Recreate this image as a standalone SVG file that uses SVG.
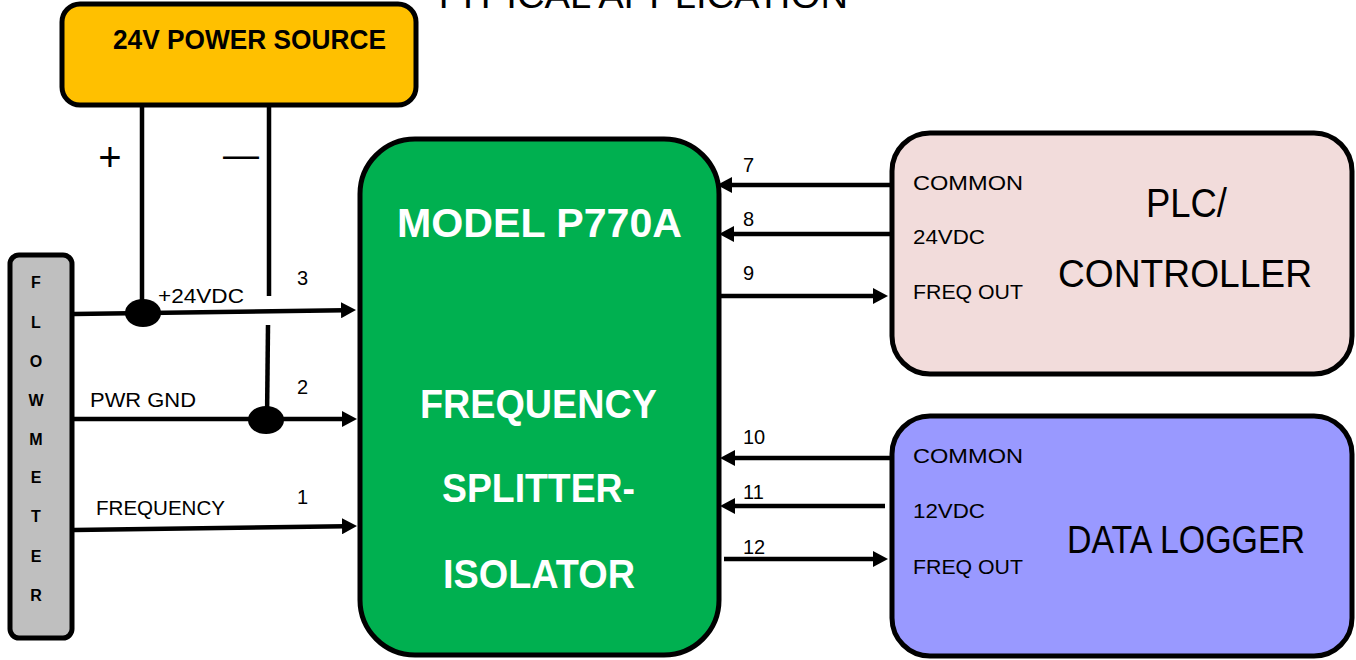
<svg xmlns="http://www.w3.org/2000/svg" width="1356" height="660" viewBox="0 0 1356 660">
<style>
.box{stroke:#000;stroke-width:5}
.t{font-family:"Liberation Sans",Arial,sans-serif;fill:#000}
.b{font-weight:bold}
.w{fill:#fff}
.wire{stroke:#000;stroke-width:4.5;fill:none}
.lbl{font-size:21px}
.num{font-size:20px}
</style>
<defs>
<marker id="ah" markerUnits="userSpaceOnUse" markerWidth="16" markerHeight="16" refX="3" refY="8" orient="auto">
<path d="M0,0 L15,8 L0,16 z" fill="#000"/>
</marker>
</defs>
<rect width="1356" height="660" fill="#fff"/>
<text class="t" x="432" y="8" font-size="37" textLength="416" lengthAdjust="spacingAndGlyphs">TYPICAL APPLICATION</text>

<g id="connectors">
<line class="wire" x1="142" y1="106" x2="142" y2="312"/>
<line class="wire" x1="269" y1="106" x2="269" y2="296"/>
<line class="wire" x1="268" y1="325" x2="267" y2="420"/>
<line class="wire" x1="74" y1="314" x2="344" y2="310.2" marker-end="url(#ah)"/>
<line class="wire" x1="74" y1="419" x2="345" y2="419" marker-end="url(#ah)"/>
<line class="wire" x1="74" y1="530" x2="345" y2="526.2" marker-end="url(#ah)"/>
<line class="wire" x1="890" y1="185" x2="729" y2="185" marker-end="url(#ah)"/>
<line class="wire" x1="890" y1="234" x2="731" y2="234" marker-end="url(#ah)"/>
<line class="wire" x1="720" y1="296" x2="876" y2="296" marker-end="url(#ah)"/>
<line class="wire" x1="890" y1="458" x2="732" y2="458" marker-end="url(#ah)"/>
<line class="wire" x1="885" y1="506" x2="732" y2="506" marker-end="url(#ah)"/>
<line class="wire" x1="724" y1="559" x2="876" y2="559" marker-end="url(#ah)"/>
<ellipse cx="143" cy="313" rx="18" ry="14" fill="#000"/>
<ellipse cx="266" cy="420" rx="18" ry="14" fill="#000"/>
<text class="t" x="110" y="171" font-size="40" text-anchor="middle">+</text>
<text class="t" x="241" y="167" font-size="36" text-anchor="middle">—</text>
<text class="t lbl" x="158" y="303" textLength="86" lengthAdjust="spacingAndGlyphs">+24VDC</text>
<text class="t lbl" x="90" y="407" textLength="106" lengthAdjust="spacingAndGlyphs">PWR GND</text>
<text class="t lbl" x="96" y="515" textLength="129" lengthAdjust="spacingAndGlyphs">FREQUENCY</text>
<text class="t num" x="297" y="285">3</text>
<text class="t num" x="297" y="394">2</text>
<text class="t num" x="297" y="504">1</text>
<text class="t num" x="743" y="172">7</text>
<text class="t num" x="743" y="226">8</text>
<text class="t num" x="743" y="280">9</text>
<text class="t num" x="743" y="444">10</text>
<text class="t num" x="743" y="499">11</text>
<text class="t num" x="743" y="554">12</text>
</g>

<g id="power-source">
<rect class="box" x="62" y="4" width="354" height="101" rx="18" fill="#FFC000"/>
<text class="t b" x="113" y="49" font-size="27" textLength="273" lengthAdjust="spacingAndGlyphs">24V POWER SOURCE</text>
</g>

<g id="flowmeter">
<rect class="box" x="10" y="255" width="62" height="383" rx="9" fill="#BFBFBF" stroke-width="4.5"/>
<g class="t b" font-size="16" text-anchor="middle">
<text x="36" y="288">F</text>
<text x="36" y="328">L</text>
<text x="36" y="367">O</text>
<text x="36" y="406">W</text>
<text x="36" y="445">M</text>
<text x="36" y="483">E</text>
<text x="36" y="522">T</text>
<text x="36" y="562">E</text>
<text x="36" y="601">R</text>
</g>
</g>

<g id="p770a">
<rect class="box" x="360" y="139" width="359" height="516" rx="55" fill="#00B050"/>
<text class="t b w" x="397" y="237" font-size="40" textLength="285" lengthAdjust="spacingAndGlyphs">MODEL P770A</text>
<text class="t b w" x="420" y="418" font-size="40" textLength="237" lengthAdjust="spacingAndGlyphs">FREQUENCY</text>
<text class="t b w" x="442" y="502" font-size="40" textLength="193" lengthAdjust="spacingAndGlyphs">SPLITTER-</text>
<text class="t b w" x="443" y="588" font-size="40" textLength="192" lengthAdjust="spacingAndGlyphs">ISOLATOR</text>
</g>

<g id="plc">
<rect class="box" x="892" y="133" width="460" height="241" rx="38" fill="#F2DCDB"/>
<text class="t lbl" x="913" y="190" textLength="110" lengthAdjust="spacingAndGlyphs">COMMON</text>
<text class="t lbl" x="913" y="244" textLength="72" lengthAdjust="spacingAndGlyphs">24VDC</text>
<text class="t lbl" x="913" y="299" textLength="110" lengthAdjust="spacingAndGlyphs">FREQ OUT</text>
<text class="t" x="1146" y="217" font-size="40" textLength="81" lengthAdjust="spacingAndGlyphs">PLC/</text>
<text class="t" x="1058" y="287" font-size="39" textLength="254" lengthAdjust="spacingAndGlyphs">CONTROLLER</text>
</g>

<g id="data-logger">
<rect class="box" x="892" y="416" width="460" height="240" rx="38" fill="#9999FF"/>
<text class="t lbl" x="913" y="463" textLength="110" lengthAdjust="spacingAndGlyphs">COMMON</text>
<text class="t lbl" x="913" y="518" textLength="72" lengthAdjust="spacingAndGlyphs">12VDC</text>
<text class="t lbl" x="913" y="574" textLength="110" lengthAdjust="spacingAndGlyphs">FREQ OUT</text>
<text class="t" x="1067" y="553" font-size="38" textLength="238" lengthAdjust="spacingAndGlyphs">DATA LOGGER</text>
</g>
</svg>
